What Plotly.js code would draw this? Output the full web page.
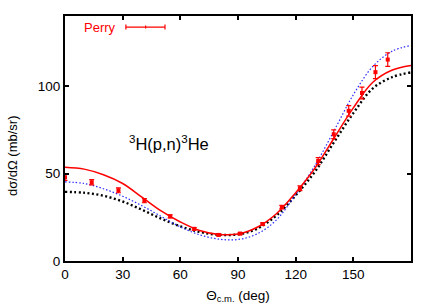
<!DOCTYPE html>
<html>
<head>
<meta charset="utf-8">
<script src="https://cdn.plot.ly/plotly-3.0.1.min.js"></script>
<style>html,body{margin:0;padding:0;background:#fff;}#chart{width:436px;height:305px;}</style>
</head>
<body>
<div id="chart"></div>
<script>
// Perry data
const perryAngle = [0, 13.9, 27.8, 41.3, 54.7, 67.2, 79.9, 91.1, 102.8, 112.8, 122.2, 131.7, 139.8, 147.6, 154.5, 161.5, 167.9];
const perryXs    = [47.9, 45.0, 40.4, 34.5, 25.5, 18.4, 14.9, 15.7, 21.1, 30.8, 41.6, 57.1, 72.4, 85.8, 96.0, 107.9, 115.1];
const perryErr   = [1.8, 1.5, 1.4, 1.2, 0.9, 0.7, 0.6, 0.6, 0.7, 1.0, 1.4, 2.0, 2.5, 3.0, 3.3, 3.7, 3.9];

// Theory curves
const theoryAngle = [0, 10, 20, 30, 40, 50, 60, 70, 80, 90, 100, 110, 120, 130, 140, 150, 160, 170, 180];
const redCurve   = [53.6, 52.5, 49.3, 44.3, 36.5, 28.6, 22.3, 17.4, 15.2, 15.4, 19.3, 27.0, 39.0, 53.0, 70.3, 87.5, 102.0, 109.0, 111.7];
const blueCurve  = [45.2, 44.3, 41.3, 37.0, 31.6, 25.5, 19.5, 15.0, 12.5, 12.3, 15.5, 23.5, 38.0, 54.5, 74.5, 95.0, 111.0, 119.8, 123.2];
const blackCurve = [39.5, 39.0, 37.3, 34.0, 29.3, 24.2, 19.8, 16.6, 15.0, 15.2, 18.5, 26.0, 37.5, 51.0, 68.0, 84.5, 98.5, 105.0, 107.8];

const xTicks = [0, 30, 60, 90, 120, 150];
const yTicks = [0, 50, 100];

const FONT = 'Liberation Sans, Arial, sans-serif';

const traces = [
  {x: theoryAngle, y: blackCurve, mode: 'lines', line: {color: '#000', width: 2.4, dash: '2px,2.5px', shape: 'spline'}, showlegend: false, hoverinfo: 'skip'},
  {x: theoryAngle, y: blueCurve, mode: 'lines', line: {color: '#2a2aff', width: 1.2, dash: '1.5px,2px', shape: 'spline'}, showlegend: false, hoverinfo: 'skip'},
  {x: theoryAngle, y: redCurve, mode: 'lines', line: {color: '#ff0000', width: 1.5, shape: 'spline'}, showlegend: false, hoverinfo: 'skip'},
  {x: perryAngle, y: perryXs, name: 'Perry', mode: 'markers',
   marker: {color: '#ff0000', size: 4, symbol: 'square'},
   error_y: {type: 'data', array: perryErr, visible: true, color: '#ff0000', thickness: 1.2, width: 2.5},
   showlegend: false}
];

const layout = {
  width: 436, height: 305,
  margin: {l: 65, r: 25, t: 16, b: 44},
  paper_bgcolor: '#fff', plot_bgcolor: '#fff',
  font: {family: FONT, size: 13, color: '#000'},
  xaxis: {
    range: [0, 180], tickvals: xTicks, ticktext: xTicks.map(String),
    ticks: 'inside', ticklen: 4, tickwidth: 2, tickcolor: '#000',
    showline: true, linewidth: 2, linecolor: '#000', mirror: 'ticks',
    showgrid: false, zeroline: false,
    tickfont: {family: FONT, size: 13.5},
    title: {text: 'Θ<sub>c.m.</sub> (deg)', font: {family: FONT, size: 13.5}, standoff: 9}
  },
  yaxis: {
    range: [0, 140], tickvals: yTicks, ticktext: yTicks.map(String),
    ticks: 'inside', ticklen: 4, tickwidth: 2, tickcolor: '#000',
    showline: true, linewidth: 2, linecolor: '#000', mirror: 'ticks',
    showgrid: false, zeroline: false,
    tickfont: {family: FONT, size: 13.5}
  },
  annotations: [
    {xref: 'paper', yref: 'paper', x: -0.152, y: 0.43, text: 'dσ/dΩ (mb/sr)', textangle: -90,
     showarrow: false, font: {family: FONT, size: 13, color: '#000'}, xanchor: 'center', yanchor: 'middle'},
    {xref: 'paper', yref: 'paper', x: 0.3, y: 0.48, text: '<sup>3</sup>H(p,n)<sup>3</sup>He',
     showarrow: false, font: {family: FONT, size: 16.5, color: '#000'}, xanchor: 'center', yanchor: 'middle'},
    {xref: 'paper', yref: 'paper', x: 0.153, y: 0.955, text: 'Perry',
     showarrow: false, font: {family: FONT, size: 13, color: '#ff0000'}, xanchor: 'right', yanchor: 'middle'}
  ],
  shapes: [
    {type: 'line', xref: 'paper', yref: 'paper', x0: 0.176, x1: 0.289, y0: 0.955, y1: 0.955, line: {color: '#ff0000', width: 1.2}},
    {type: 'line', xref: 'paper', yref: 'paper', x0: 0.176, x1: 0.176, y0: 0.945, y1: 0.965, line: {color: '#ff0000', width: 1.2}},
    {type: 'line', xref: 'paper', yref: 'paper', x0: 0.289, x1: 0.289, y0: 0.945, y1: 0.965, line: {color: '#ff0000', width: 1.2}},
    {type: 'line', xref: 'paper', yref: 'paper', x0: 0.233, x1: 0.233, y0: 0.949, y1: 0.961, line: {color: '#ff0000', width: 1.2}}
  ],
  showlegend: false
};

Plotly.newPlot('chart', traces, layout, {staticPlot: true, displayModeBar: false});
</script>
</body>
</html>
